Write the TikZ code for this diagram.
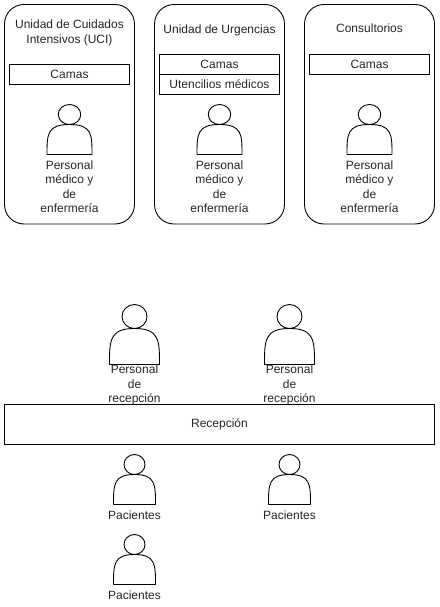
\documentclass[tikz,border=0pt]{standalone}
\usepackage{fontspec}
\setmainfont{Liberation Sans}
\tikzset{
  diagram/.style={x=1pt,y=-1pt,line width=0.9pt,every node/.style={inner sep=0pt,outer sep=0pt}},
  label/.style={font=\fontsize{12}{14.5}\selectfont,align=center,text=black!85},
  unitbox/.style={draw,rounded corners=19.5pt,minimum width=130pt,minimum height=219.5pt},
  itembox/.style={draw,label,minimum width=120pt,minimum height=20pt},
  deskbox/.style={draw,label,minimum width=430pt,minimum height=40pt},
  actorline/.style={draw,line join=round}
}
% left x, top y, width, height
\newcommand{\actorfig}[4]{%
  \draw[actorline] ({#1+#3/2},{#2+#4/5}) ellipse [x radius={#3/4},y radius={#4/5}];
  \draw[actorline] (#1,{#2+#4})
    .. controls (#1,{#2+0.6*#4}) and (#1,{#2+0.4*#4}) .. ({#1+#3/2},{#2+0.4*#4})
    .. controls ({#1+#3},{#2+0.4*#4}) and ({#1+#3},{#2+0.6*#4}) .. ({#1+#3},{#2+#4}) -- cycle;
}
\begin{document}
\begin{tikzpicture}[diagram]
\useasboundingbox (0,0) rectangle (439,607);
\fill[white] (0,0) rectangle (439,607);

\node[unitbox] (uci) at (69.5,114.25) {};
\node[unitbox] (urg) at (219.5,114.25) {};
\node[unitbox] (con) at (369.5,114.25) {};

\node[label] (ucititle) at (69.5,33) {Unidad de Cuidados\\Intensivos (UCI)};
\node[label] (urgtitle) at (219.5,30) {Unidad de Urgencias};
\node[label] (contitle) at (369.5,28) {Consultorios};

\node[itembox] (ucicamas) at (69.5,74.5) {Camas};
\node[itembox] (urgcamas) at (219.5,64.5) {Camas};
\node[itembox] (urguten) at (219.5,84.5) {Utencilios médicos};
\node[itembox] (concamas) at (369.5,64.5) {Camas};

\actorfig{47}{104.5}{45}{50}
\actorfig{197}{104.5}{45}{50}
\actorfig{347}{104.5}{45}{50}
\node[label] (ucistaff) at (69.5,186.5) {Personal\\médico y\\de\\enfermería};
\node[label] (urgstaff) at (219.5,186.5) {Personal\\médico y\\de\\enfermería};
\node[label] (constaff) at (369.5,186.5) {Personal\\médico y\\de\\enfermería};

\actorfig{109.5}{304.5}{50}{60}
\actorfig{264.5}{304.5}{50}{60}
\node[label] (recep1) at (134.5,385.2) {Personal\\de\\recepción};
\node[label] (recep2) at (289.5,385.2) {Personal\\de\\recepción};

\node[deskbox] (desk) at (219.5,424.5) {Recepción};

\actorfig{113.5}{454.5}{42}{50}
\actorfig{268.5}{454.5}{42}{50}
\actorfig{113.5}{534.5}{42}{50}
\node[label] (pac1) at (134.5,515) {Pacientes};
\node[label] (pac2) at (289.5,515) {Pacientes};
\node[label] (pac3) at (134.5,595) {Pacientes};
\end{tikzpicture}
\end{document}
